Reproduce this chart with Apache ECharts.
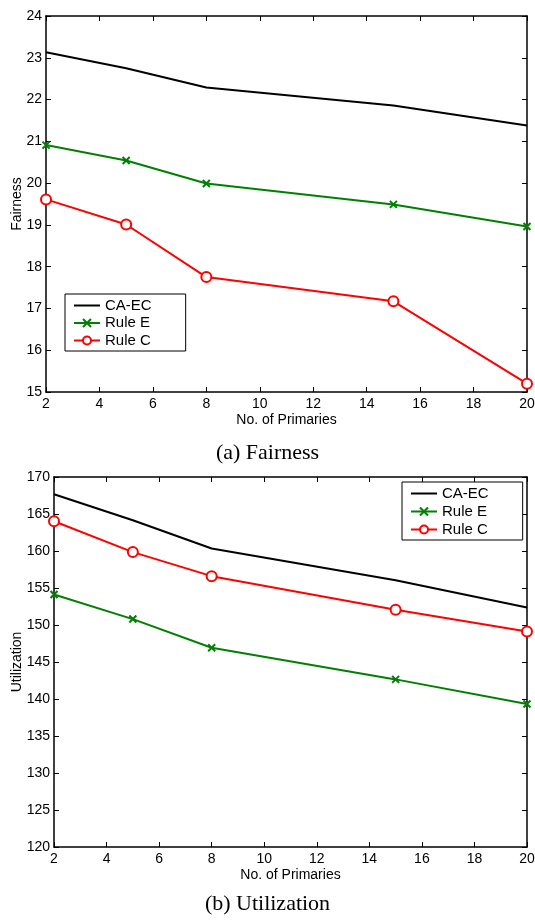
<!DOCTYPE html>
<html>
<head>
<meta charset="utf-8">
<script src="https://cdn.jsdelivr.net/npm/echarts@6/dist/echarts.min.js"></script>
<style>
  html, body { margin: 0; padding: 0; background: #fff; }
  #chart { width: 535px; height: 921px; }
</style>
</head>
<body>
<div id="chart"></div>
<script>
const primaries = [2, 5, 8, 15, 20];
const seriesNames = ['CA-EC', 'Rule E', 'Rule C'];
const fairCAEC = [23.13, 22.75, 22.29, 21.86, 21.38];
const fairRuleE = [20.91, 20.54, 19.99, 19.49, 18.96];
const fairRuleC = [19.61, 19.01, 17.75, 17.17, 15.2];
const utilCAEC = [167.67, 164.16, 160.33, 156.06, 152.37];
const utilRuleE = [154.12, 150.8, 146.92, 142.65, 139.33];
const utilRuleC = [164.02, 159.85, 156.6, 152.06, 149.13];
const captions = ['(a) Fairness', '(b) Utilization'];

const font = 'Liberation Sans';
const pairs = (ys) => primaries.map((x, i) => [x, ys[i]]);

const tick = { show: true, inside: true, length: 5, lineStyle: { color: '#000', width: 1 } };
const axisLine = { show: true, onZero: false, lineStyle: { color: '#000', width: 1.5 } };

function xAxes(grid) {
  return [
    {
      gridIndex: grid, type: 'value', min: 2, max: 20, interval: 2,
      name: 'No. of Primaries', nameLocation: 'middle', nameGap: 21, nameMoveOverlap: false,
      nameTextStyle: { fontFamily: font, fontSize: 14, color: '#000' },
      axisLine, axisTick: tick, splitLine: { show: false },
      axisLabel: { fontFamily: font, fontSize: 14, color: '#000', margin: 5 }
    },
    {
      gridIndex: grid, type: 'value', position: 'top', min: 2, max: 20, interval: 2,
      axisLine, axisTick: tick, splitLine: { show: false }, axisLabel: { show: false }
    }
  ];
}

function yAxes(grid, min, max, interval, name, gap) {
  return [
    {
      gridIndex: grid, type: 'value', min, max, interval,
      name, nameLocation: 'middle', nameGap: gap, nameMoveOverlap: false,
      nameTextStyle: { fontFamily: font, fontSize: 14, color: '#000' },
      axisLine, axisTick: tick, splitLine: { show: false },
      axisLabel: { fontFamily: font, fontSize: 14, color: '#000', margin: 4 }
    },
    {
      gridIndex: grid, type: 'value', position: 'right', min, max, interval,
      axisLine, axisTick: tick, splitLine: { show: false }, axisLabel: { show: false }
    }
  ];
}

function lines(xi, yi, caec, ruleE, ruleC) {
  return [
    {
      name: 'CA-EC', type: 'line', xAxisIndex: xi, yAxisIndex: yi,
      data: pairs(caec), symbol: 'none',
      lineStyle: { color: '#000', width: 2 }, itemStyle: { color: '#000' }
    },
    {
      name: 'Rule E', type: 'line', xAxisIndex: xi, yAxisIndex: yi,
      data: pairs(ruleE), symbol: 'path://M0,0L10,10M10,0L0,10', symbolSize: 7,
      lineStyle: { color: '#008000', width: 2 },
      itemStyle: { color: '#008000', borderColor: '#008000', borderWidth: 2 }
    },
    {
      name: 'Rule C', type: 'line', xAxisIndex: xi, yAxisIndex: yi,
      data: pairs(ruleC), symbol: 'emptyCircle', symbolSize: 10,
      lineStyle: { color: '#ff0000', width: 2 },
      itemStyle: { color: '#ff0000', borderColor: '#ff0000', borderWidth: 2 }
    }
  ];
}

function legendBox(left, top, gap) {
  return {
    data: [
      { name: seriesNames[0], icon: 'path://M0,0H26V2H0Z' },
      { name: seriesNames[1] },
      { name: seriesNames[2] }
    ],
    orient: 'vertical', left, top,
    itemWidth: 26, itemHeight: 10, itemGap: gap,
    padding: [4, 34, 3, 8],
    borderColor: '#000', borderWidth: 1, backgroundColor: '#fff',
    selectedMode: false,
    textStyle: { fontFamily: font, fontSize: 15, lineHeight: 14, color: '#000' }
  };
}

const chart = echarts.init(document.getElementById('chart'));
chart.setOption({
  animation: false,
  backgroundColor: '#fff',
  title: [
    { text: captions[0], left: 'center', top: 442, padding: 0,
      textStyle: { fontFamily: 'Liberation Serif', fontSize: 22, fontWeight: 'normal', color: '#000' } },
    { text: captions[1], left: 'center', top: 893, padding: 0,
      textStyle: { fontFamily: 'Liberation Serif', fontSize: 22, fontWeight: 'normal', color: '#000' } }
  ],
  grid: [
    { left: 46, top: 16, right: 8, height: 376, outerBoundsMode: 'none', containLabel: false },
    { left: 54, top: 477, right: 8, height: 370, outerBoundsMode: 'none', containLabel: false }
  ],
  legend: [legendBox(65, 294, 2.5), legendBox(402, 482, 3)],
  xAxis: [...xAxes(0), ...xAxes(1)],
  yAxis: [...yAxes(0, 15, 24, 1, 'Fairness', 22), ...yAxes(1, 120, 170, 5, 'Utilization', 30)],
  series: [
    ...lines(0, 0, fairCAEC, fairRuleE, fairRuleC),
    ...lines(2, 2, utilCAEC, utilRuleE, utilRuleC)
  ]
});
</script>
</body>
</html>
